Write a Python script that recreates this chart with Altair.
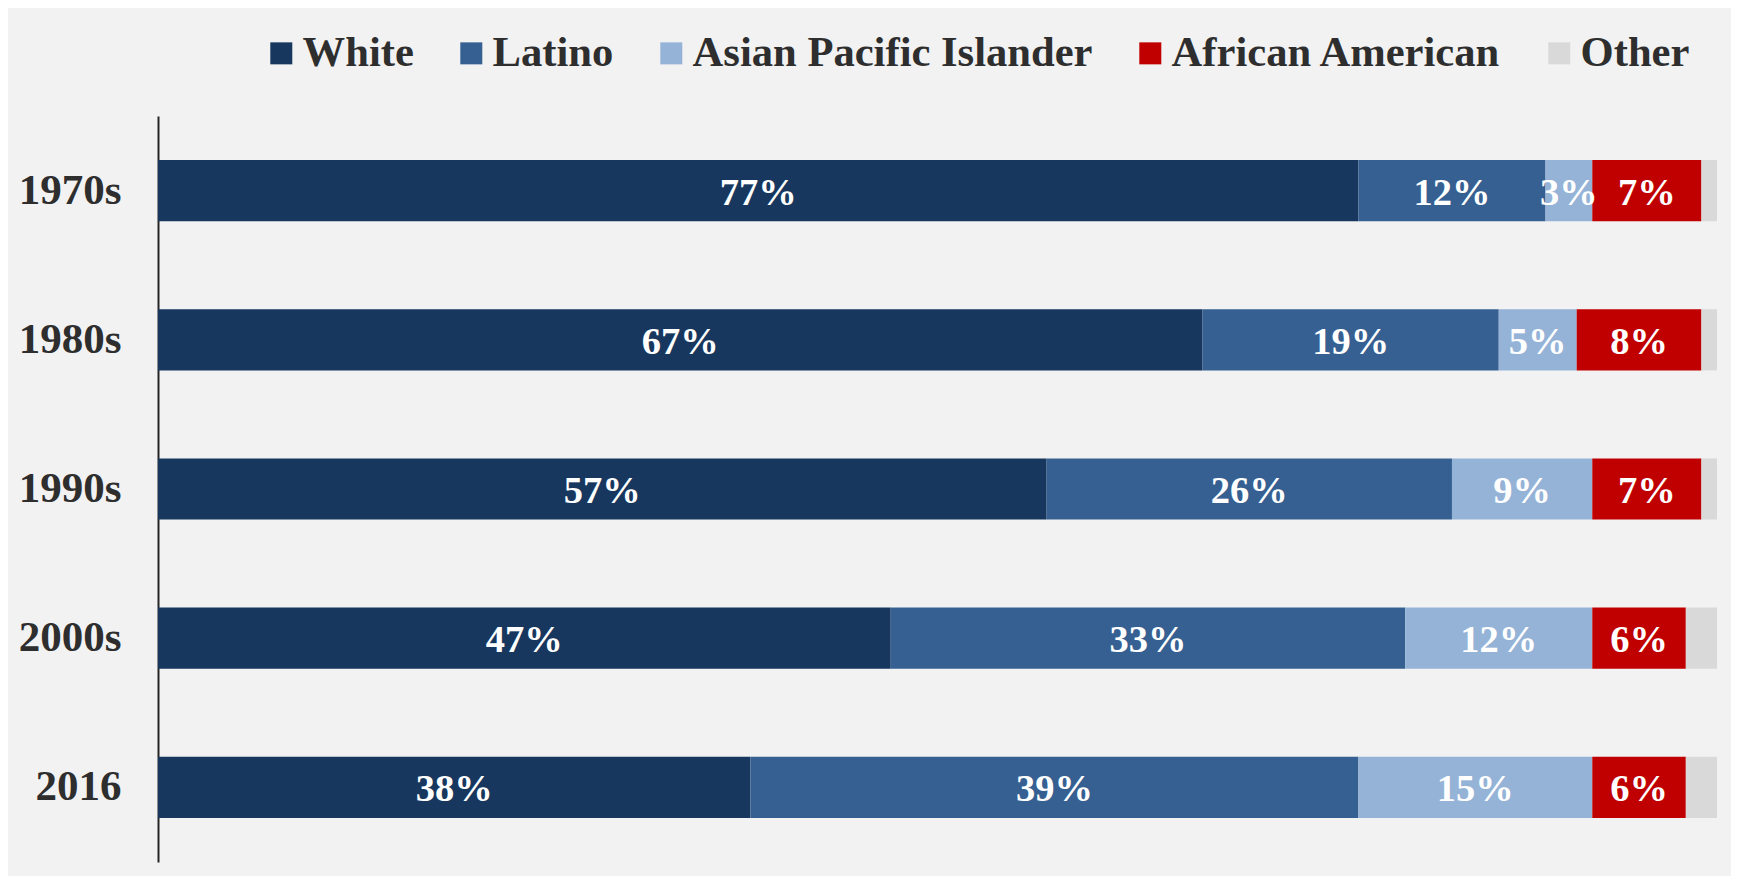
import altair as alt
import pandas as pd

decades = ["1970s", "1980s", "1990s", "2000s", "2016"]
groups = ["White", "Latino", "Asian Pacific Islander", "African American", "Other"]
white = [77, 67, 57, 47, 38]
latino = [12, 19, 26, 33, 39]
api = [3, 5, 9, 12, 15]
african_american = [7, 8, 7, 6, 6]
other = [1, 1, 1, 2, 2]
colors = ["#17375e", "#366092", "#95b3d7", "#c00000", "#d9d9d9"]

rows = []
for i, d in enumerate(decades):
    for j, (g, vals) in enumerate(zip(groups, [white, latino, api, african_american, other])):
        rows.append({"decade": d, "group": g, "value": vals[i], "order": j})
df = pd.DataFrame(rows)

FONT = "Liberation Serif"
TXT = "#2e2e2e"
BG = "#f2f2f2"

base = alt.Chart(df).transform_stack(
    stack="value", as_=["x0", "x1"], groupby=["decade"],
    sort=[alt.SortField("order", order="ascending")]
).transform_calculate(
    mid="(datum.x0 + datum.x1) / 2",
    label="datum.value + '%'"
)

xscale = alt.Scale(domain=[0, 100], nice=False, zero=True)
yenc = alt.Y(
    "decade:N", sort=decades,
    scale=alt.Scale(paddingInner=0.59, paddingOuter=0.295),
    axis=alt.Axis(title=None, ticks=False, grid=False, domainColor="#262626", domainWidth=2,
                  labelFont=FONT, labelFontWeight="bold", labelFontSize=43,
                  labelColor=TXT, labelPadding=37),
)

bars = base.mark_bar().encode(
    x=alt.X("x0:Q", scale=xscale, axis=None),
    x2="x1:Q",
    y=yenc,
    color=alt.Color(
        "group:N",
        scale=alt.Scale(domain=groups, range=colors),
        legend=alt.Legend(
            title=None, orient="none", legendX=102, legendY=-84, direction="horizontal",
            symbolType="square", symbolSize=484, symbolStrokeWidth=0, symbolOpacity=1,
            labelFont=FONT, labelFontSize=42.6, labelFontWeight="bold", labelColor=TXT,
            labelOffset=0, columnPadding=36, padding=0, labelLimit=700,
        ),
    ),
    order=alt.Order("order:Q"),
)

text = base.transform_filter("datum.group != 'Other'").mark_text(
    font=FONT, fontWeight="bold", fontSize=38.5, color="white", baseline="middle", dy=2
).encode(
    x=alt.X("mid:Q", scale=xscale, axis=None),
    y=alt.Y("decade:N", sort=decades),
    text="label:N",
)

chart = alt.layer(bars, text).properties(
    width=1559, height=746,
    background=BG,
    autosize=alt.AutoSizeParams(type="none"),
    padding={"left": 150, "top": 108, "right": 14, "bottom": 14},
).configure(
    background=BG,
    view=alt.ViewConfig(stroke="transparent", strokeWidth=0),
)

chart.save("out.html", embed_options={"renderer": "svg", "actions": False})
